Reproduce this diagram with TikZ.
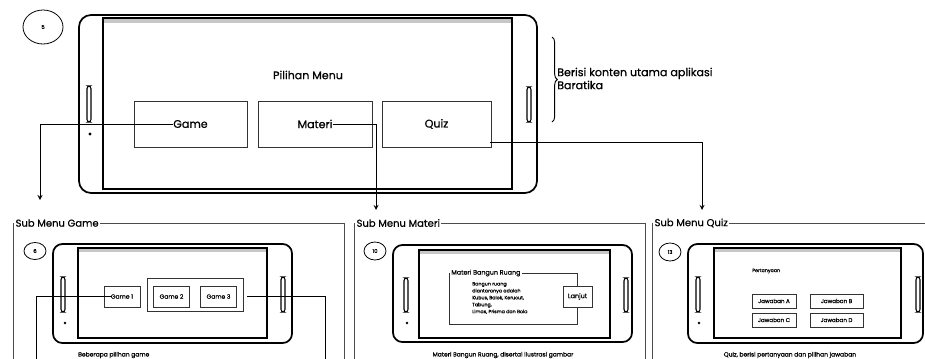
\documentclass[tikz,border=0pt]{standalone}
\usepackage{fontspec}
\setmainfont{Poppins}[FakeBold=0.7]
\usetikzlibrary{shapes.geometric,decorations.pathreplacing}

\begin{document}
\begin{tikzpicture}[x=0.75pt,y=-0.75pt]
\tikzstyle{phone}=[draw, line width=1.3pt, rounded corners=7pt]
\tikzstyle{screen}=[draw, line width=1.6pt]
\tikzstyle{bar}=[fill=black!22]
\tikzstyle{pill}=[draw, line width=0.8pt, rounded corners=2pt]
\tikzstyle{number}=[ellipse, draw, line width=0.6pt, inner sep=0pt, font=\fontsize{4}{4}\selectfont]
\tikzstyle{menubtn}=[draw=black!80, line width=0.7pt, minimum height=34.5pt, inner sep=0pt]
\tikzstyle{smallbtn}=[draw=black!80, fill=white, line width=0.7pt, minimum width=27pt, minimum height=15.75pt, inner sep=0pt, font=\fontsize{4.5}{5}\selectfont]
\tikzstyle{answer}=[draw=black!80, line width=0.7pt, minimum height=10.5pt, inner sep=0pt, font=\fontsize{4.2}{5}\selectfont]
\tikzstyle{btntext}=[inner sep=0pt]
\tikzstyle{frame}=[draw=black!70, line width=0.5pt]
\tikzstyle{title}=[fill=white, inner sep=1pt, anchor=west, font=\fontsize{7.5}{8}\selectfont]
\tikzstyle{caption}=[inner sep=0pt, font=\fontsize{4.5}{5}\selectfont]
\tikzstyle{link}=[draw, line width=0.7pt, ->, >=stealth]

\useasboundingbox (0,0) rectangle (925,358);

% main menu
\draw[phone, rounded corners=9pt] (79,15) rectangle (537,193);
\fill[bar] (103,18) rectangle (512,23);
\draw[screen] (103,18) rectangle (512,189);
\draw[pill] (87,86) rectangle (91,122);
\fill (90,134) circle (1.2pt);
\draw[pill] (527,87) rectangle (531,122);

\node[number, minimum width=30pt, minimum height=25.5pt] (n5) at (43,27) {5};
\node[font=\fontsize{8.3}{8}\selectfont] (menu) at (308,75) {Pilihan Menu};

\node[menubtn, minimum width=84.75pt] (game) at (190.5,124) {};
\node[menubtn, minimum width=85.5pt] (materi) at (315,124) {};
\node[menubtn, minimum width=81.75pt] (quiz) at (436.5,124) {};
\node[btntext, font=\fontsize{8.3}{8}\selectfont] (gamel) at (game) {Game};
\node[btntext, font=\fontsize{8.3}{8}\selectfont] (materil) at (materi) {Materi};
\node[btntext, font=\fontsize{8.3}{8}\selectfont] (quizl) at (quiz) {Quiz};

\draw[decorate, decoration={brace, amplitude=4pt}, line width=0.7pt] (552,37) -- (552,122);
\node[anchor=west, align=left, inner sep=0pt, font=\fontsize{8.3}{9.75}\selectfont] (desc) at (557,78.5)
  {Berisi konten utama aplikasi\\Baratika};

\coordinate (gamein) at (40,200);
\coordinate (materiin) at (376,210);
\coordinate (quizout) at (490,142);
\coordinate (quizin) at (702,210);

\draw[link] (gamel.west) -| (gamein);
\draw[link] (materil.east) -| (materiin);
\draw[link] (quizout) -| (quizin);

% sub menu game
\begin{scope}
\draw[frame] (13,223) rectangle (344,362);
\node[title] (tgame) at (14,223) {Sub Menu Game};

\draw[phone] (53,244) rectangle (292,343);
\fill[bar] (78,248) rectangle (267,252);
\draw[screen] (78,248) rectangle (267,338);
\draw[pill] (61,277) rectangle (65,312);
\fill (65,323) circle (1pt);
\draw[pill] (281,277) rectangle (285,312);
\node[number, minimum width=16.5pt, minimum height=12.75pt] (n6) at (35,251) {6};

\node[smallbtn, minimum width=72pt, minimum height=24.75pt] (grp) at (195,294.5) {};
\node[smallbtn] (game1) at (122,296.5) {};
\node[smallbtn] (game2) at (171.5,296.5) {Game 2};
\node[smallbtn] (game3) at (218.5,296.5) {Game 3};
\node[btntext, font=\fontsize{4.5}{5}\selectfont] (game1l) at (game1) {Game 1};

\coordinate (g3from) at (247,296);
\coordinate (g1end) at (36,362);
\coordinate (g3end) at (325,362);
\draw[line width=0.7pt] (game1l.west) -| (g1end);
\draw[line width=0.7pt] (g3from) -| (g3end);

\node[caption, anchor=west] (capgame) at (78,355) {Beberapa pilihan game};
\end{scope}

% sub menu materi
\begin{scope}
\draw[frame] (354,223) rectangle (645,362);
\node[title] (tmateri) at (355,223) {Sub Menu Materi};

\draw[phone] (393,245) rectangle (632,342);
\fill[bar] (419,250) rectangle (610,254);
\draw[screen] (419,250) rectangle (610,338);
\draw[pill] (404,278) rectangle (408,312);
\fill (407,323) circle (1pt);
\draw[pill] (624,278) rectangle (628,312);
\node[number, minimum width=16.5pt, minimum height=13.5pt] (n10) at (375,251) {10};

\draw[frame, draw=black!80] (449,273) rectangle (577,324);
\node[fill=white, inner sep=0.8pt, anchor=west, font=\fontsize{4.8}{5}\selectfont] (tbangun) at (450,273) {Materi Bangun Ruang};
\node[anchor=west, align=left, inner sep=0pt, font=\fontsize{3.6}{5.2}\selectfont] (isi) at (472,298)
  {Bangun ruang\\diantaranya adalah\\Kubus, Balok, Kerucut,\\Tabung,\\Limas, Prisma dan Bola};
\node[smallbtn, minimum width=21.75pt, font=\fontsize{4.8}{5}\selectfont] (lanjut) at (577.5,296.5) {Lanjut};

\node[caption] (capmateri) at (503,355) {Materi Bangun Ruang, disertai ilustrasi gambar};
\end{scope}

% sub menu quiz
\begin{scope}
\draw[frame] (652,223) rectangle (930,362);
\node[title] (tquiz) at (653,223) {Sub Menu Quiz};

\draw[phone] (688,244) rectangle (923,343);
\fill[bar] (714,248) rectangle (901,252);
\draw[screen] (714,248) rectangle (901,338);
\draw[pill] (696,277) rectangle (700,312);
\fill (699,323) circle (1pt);
\draw[pill] (916,277) rectangle (920,312);
\node[number, minimum width=16.5pt, minimum height=13.5pt] (n13) at (670,252) {13};

\node[anchor=west, inner sep=0pt, font=\fontsize{3.6}{4}\selectfont] (tanya) at (752,271) {Pertanyaan};
\node[answer, minimum width=33pt] (jawa) at (774,301) {Jawaban A};
\node[answer, minimum width=39.75pt] (jawb) at (836.5,301) {Jawaban B};
\node[answer, minimum width=33pt] (jawc) at (774,320) {Jawaban C};
\node[answer, minimum width=39.75pt] (jawd) at (836.5,320) {Jawaban D};

\node[caption] (capquiz) at (790,355) {Quiz, berisi pertanyaan dan pilihan jawaban};
\end{scope}

\end{tikzpicture}
\end{document}
